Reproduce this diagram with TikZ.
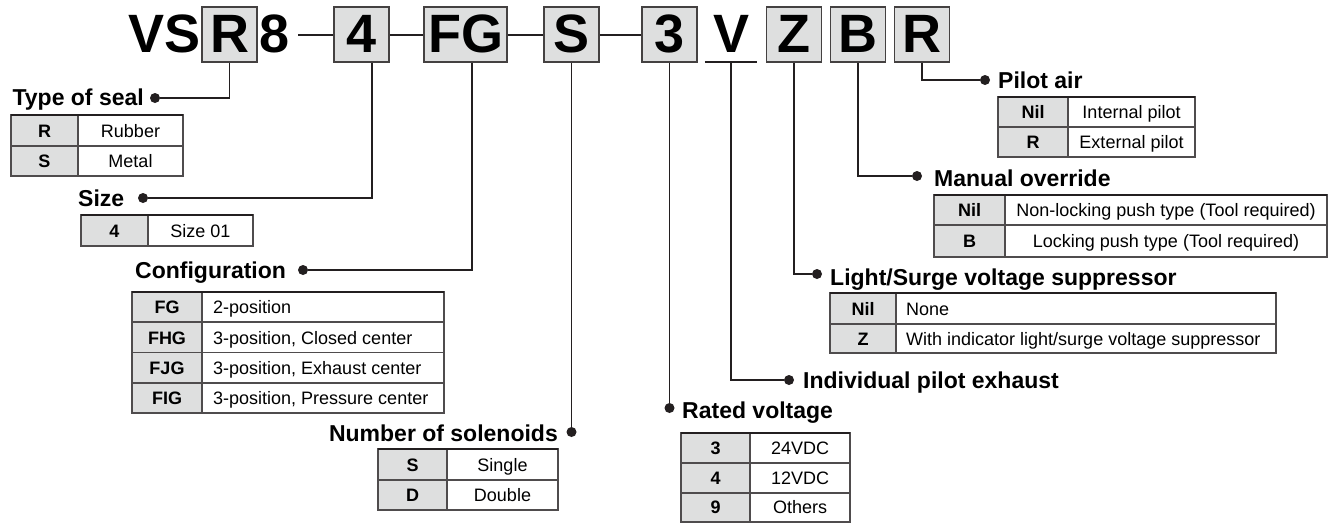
\documentclass[tikz,border=0pt]{standalone}
\usepackage{fontspec}
\setmainfont{Liberation Sans}
\definecolor{linecol}{HTML}{231F20}
\definecolor{boxfill}{HTML}{DEDFDF}

\begin{document}
\begin{tikzpicture}[x=1pt,y=-1pt,
  wire/.style={draw=linecol, line width=1.8pt},
  dashline/.style={draw=linecol, line width=2pt},
  title/.style={inner sep=0pt, font=\bfseries\fontsize{54}{54}\selectfont, text height=38.5pt, text depth=3pt},
  hbox/.style={title, draw=linecol!85, line width=1.8pt, fill=boxfill, minimum width=55pt, minimum height=55pt},
  head/.style={inner sep=0pt, font=\bfseries\fontsize{23}{23}\selectfont, text height=16.5pt, text depth=0pt},
  code/.style={inner sep=0pt, font=\bfseries\fontsize{18}{18}\selectfont, text height=13pt, text depth=0pt},
  desc/.style={inner sep=0pt, font=\fontsize{18}{18}\selectfont, text height=13pt, text depth=0pt},
  dot/.style={circle, fill=linecol, inner sep=0pt, minimum size=10pt},
  grid/.style={draw=linecol!80, line width=1.2pt},
  topline/.style={draw=linecol, line width=2.6pt},
  codefill/.style={fill=boxfill}]
\useasboundingbox (0,0) rectangle (1337,523);

% model code
\node[title, anchor=east] (vs) at (201,34.5) {VS};
\node[hbox] (box-seal) at (229.5,34.5) {R};
\node[title] (eight) at (275,34.5) {8};
\node[hbox] (box-size) at (361.5,34.5) {4};
\node[hbox, minimum width=83pt] (box-cfg) at (465.5,34.5) {FG};
\node[hbox] (box-sol) at (571.5,34.5) {S};
\node[hbox] (box-volt) at (669.5,34.5) {3};
\node[title, minimum width=52pt, minimum height=55pt] (exh) at (731,34.5) {V};
\node[hbox] (box-sup) at (794,34.5) {Z};
\node[hbox] (box-man) at (858,34.5) {B};
\node[hbox] (box-pil) at (922,34.5) {R};

\draw[dashline] ([xshift=8pt]eight.east) -- (box-size.west);
\draw[dashline] (box-size.east) -- (box-cfg.west);
\draw[dashline] (box-cfg.east) -- (box-sol.west);
\draw[dashline] (box-sol.east) -- (box-volt.west);
\draw[wire, line width=1.5pt] (exh.south west) -- (exh.south east);

% headings
\node[head, anchor=east] (seal) at (144,97) {Type of seal};
\node[head, anchor=west] (size) at (78,198) {Size};
\node[head, anchor=west] (cfg) at (135,270) {Configuration};
\node[head, anchor=east] (sol) at (558,433) {Number of solenoids};
\node[head, anchor=west] (volt) at (682,410) {Rated voltage};
\node[head, anchor=west] (exhaust) at (803,380) {Individual pilot exhaust};
\node[head, anchor=west] (sup) at (830,277) {Light/Surge voltage suppressor};
\node[head, anchor=west] (man) at (934,178) {Manual override};
\node[head, anchor=west] (pil) at (998,80) {Pilot air};

\node[dot] (seal-dot) at (155,98) {};
\node[dot] (size-dot) at (143,198) {};
\node[dot] (cfg-dot) at (303,270) {};
\node[dot] (sol-dot) at (571.5,432) {};
\node[dot] (volt-dot) at (669.5,408) {};
\node[dot] (exh-dot) at (789,380) {};
\node[dot] (sup-dot) at (817,274) {};
\node[dot] (man-dot) at (917,176) {};
\node[dot] (pil-dot) at (985,80) {};

\draw[wire] (box-seal.south) |- (seal-dot);
\draw[wire] ([xshift=10.5pt]box-size.south) |- (size-dot);
\draw[wire] ([xshift=6.5pt]box-cfg.south) |- (cfg-dot);
\draw[wire] (box-sol.south) -- (sol-dot);
\draw[wire] (box-volt.south) -- (volt-dot);
\draw[wire] (exh.south) |- (exh-dot);
\draw[wire] (box-sup.south) |- (sup-dot);
\draw[wire] (box-man.south) |- (man-dot);
\draw[wire] (box-pil.south) |- (pil-dot);

% type of seal
\fill[codefill] (11,115) rectangle (78,176);
\draw[grid] (11,115) rectangle (183,176) (78,115) -- (78,176) (11,146) -- (183,146);
\draw[topline] (11,115) -- (183,115);
\foreach \c/\t [count=\i] in {R/Rubber, S/Metal}{
  \node[code] (seal-c\i) at (44.5,{100+30.5*\i}) {\c};
  \node[desc] (seal-t\i) at (130.5,{100+30.5*\i}) {\t};
}

% size
\fill[codefill] (81,215) rectangle (148,246);
\draw[grid] (81,215) rectangle (253,246) (148,215) -- (148,246);
\draw[topline] (81,215) -- (253,215);
\node[code] (size-c1) at (114.5,230.5) {4};
\node[desc] (size-t1) at (200.5,230.5) {Size 01};

% configuration
\fill[codefill] (132,292) rectangle (202,413);
\draw[grid] (132,292) rectangle (444,413) (202,292) -- (202,413);
\foreach \y in {322,352.5,383} \draw[grid] (132,\y) -- (444,\y);
\draw[topline] (132,292) -- (444,292);
\foreach \c/\t [count=\i] in {FG/2-position, FHG/{3-position, Closed center}, FJG/{3-position, Exhaust center}, FIG/{3-position, Pressure center}}{
  \node[code] (cfg-c\i) at (167,{277+30.25*\i}) {\c};
  \node[desc, anchor=west] (cfg-t\i) at (213,{277+30.25*\i}) {\t};
}

% number of solenoids
\fill[codefill] (378,449) rectangle (447,510);
\draw[grid] (378,449) rectangle (558,510) (447,449) -- (447,510) (378,480) -- (558,480);
\draw[topline] (378,449) -- (558,449);
\foreach \c/\t [count=\i] in {S/Single, D/Double}{
  \node[code] (sol-c\i) at (412.5,{434+30.5*\i}) {\c};
  \node[desc] (sol-t\i) at (502.5,{434+30.5*\i}) {\t};
}

% rated voltage
\fill[codefill] (681,433) rectangle (750,522);
\draw[grid] (681,433) rectangle (850,522) (750,433) -- (750,522);
\foreach \y in {463,493} \draw[grid] (681,\y) -- (850,\y);
\draw[topline] (681,433) -- (850,433);
\foreach \c/\t [count=\i] in {3/24VDC, 4/12VDC, 9/Others}{
  \node[code] (volt-c\i) at (715.5,{418+29.8*\i}) {\c};
  \node[desc] (volt-t\i) at (800,{418+29.8*\i}) {\t};
}

% light/surge voltage suppressor
\fill[codefill] (830,293) rectangle (896,353);
\draw[grid] (830,293) rectangle (1276,353) (896,293) -- (896,353) (830,324) -- (1276,324);
\draw[topline] (830,293) -- (1276,293);
\node[code] (sup-c1) at (863,308.5) {Nil};
\node[desc, anchor=west] (sup-t1) at (906,308.5) {None};
\node[code] (sup-c2) at (863,338.5) {Z};
\node[desc, anchor=west] (sup-t2) at (906,338.5) {With indicator light/surge voltage suppressor};

% manual override
\fill[codefill] (934,195) rectangle (1005,257);
\draw[grid] (934,195) rectangle (1327,257) (1005,195) -- (1005,257) (934,225) -- (1327,225);
\draw[topline] (934,195) -- (1327,195);
\foreach \c/\t [count=\i] in {Nil/{Non-locking push type (Tool required)}, B/{Locking push type (Tool required)}}{
  \node[code] (man-c\i) at (969.5,{179+31*\i}) {\c};
  \node[desc] (man-t\i) at (1166,{179+31*\i}) {\t};
}

% pilot air
\fill[codefill] (998,97) rectangle (1068,157);
\draw[grid] (998,97) rectangle (1195,157) (1068,97) -- (1068,157) (998,127) -- (1195,127);
\draw[topline] (998,97) -- (1195,97);
\foreach \c/\t [count=\i] in {Nil/Internal pilot, R/External pilot}{
  \node[code] (pil-c\i) at (1033,{82+30*\i}) {\c};
  \node[desc] (pil-t\i) at (1131.5,{82+30*\i}) {\t};
}
\end{tikzpicture}
\end{document}
